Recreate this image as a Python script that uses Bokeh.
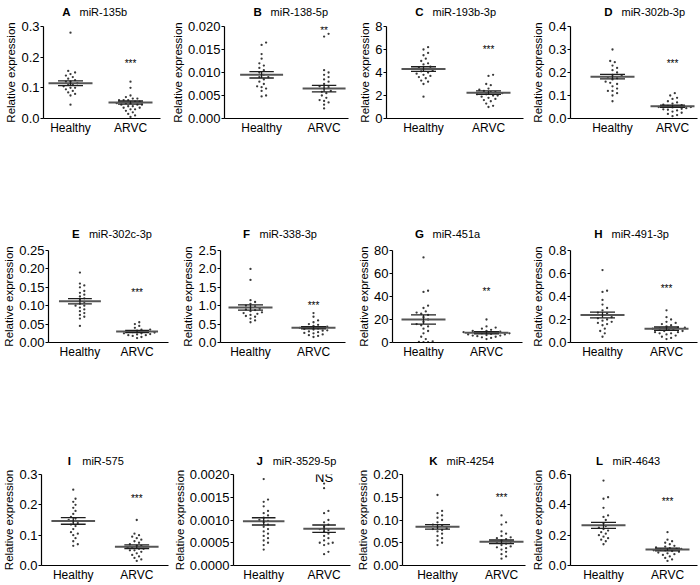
import numpy as np
from bokeh.plotting import figure
from bokeh.models import Range1d, FixedTicker, Label, ColumnDataSource
from bokeh.layouts import row, column
from bokeh.embed import file_html
from bokeh.resources import INLINE

# ---------------- data ----------------
groups = ["Healthy", "ARVC"]
panel_letters = ["A", "B", "C", "D", "E", "F", "G", "H", "I", "J", "K", "L"]
panel_names = ["miR-135b", "miR-138-5p", "miR-193b-3p", "miR-302b-3p",
               "miR-302c-3p", "miR-338-3p", "miR-451a", "miR-491-3p",
               "miR-575", "miR-3529-5p", "miR-4254", "miR-4643"]
signif = ["***", "**", "***", "***", "***", "***", "**", "***", "***", "NS", "***", "***"]
signif_y = [0.18, 0.0192, 6.0, 0.24, 0.135, 1.0, 44, 0.47, 0.22, 0.00194, 0.15, 0.42]
y_max = [0.3, 0.02, 8, 0.4, 0.25, 2.5, 80, 0.8, 0.3, 0.002, 0.2, 0.6]
y_ticks = [
    [0, 0.1, 0.2, 0.3],
    [0, 0.005, 0.010, 0.015, 0.020],
    [0, 2, 4, 6, 8],
    [0, 0.1, 0.2, 0.3, 0.4],
    [0, 0.05, 0.10, 0.15, 0.20, 0.25],
    [0, 0.5, 1.0, 1.5, 2.0, 2.5],
    [0, 20, 40, 60, 80],
    [0, 0.2, 0.4, 0.6, 0.8],
    [0, 0.1, 0.2, 0.3],
    [0, 0.0005, 0.0010, 0.0015, 0.0020],
    [0, 0.05, 0.10, 0.15, 0.20],
    [0, 0.2, 0.4, 0.6],
]
y_tick_labels = [
    ["0.0", "0.1", "0.2", "0.3"],
    ["0.000", "0.005", "0.010", "0.015", "0.020"],
    ["0", "2", "4", "6", "8"],
    ["0.0", "0.1", "0.2", "0.3", "0.4"],
    ["0.00", "0.05", "0.10", "0.15", "0.20", "0.25"],
    ["0.0", "0.5", "1.0", "1.5", "2.0", "2.5"],
    ["0", "20", "40", "60", "80"],
    ["0.0", "0.2", "0.4", "0.6", "0.8"],
    ["0.0", "0.1", "0.2", "0.3"],
    ["0.0000", "0.0005", "0.0010", "0.0015", "0.0020"],
    ["0.00", "0.05", "0.10", "0.15", "0.20"],
    ["0.0", "0.2", "0.4", "0.6"],
]
healthy_mean = [0.115, 0.0095, 4.3, 0.182, 0.112, 0.95, 20, 0.24, 0.147, 0.00097, 0.085, 0.265]
healthy_sem = [0.008, 0.0007, 0.2, 0.010, 0.007, 0.07, 4, 0.025, 0.011, 0.00008, 0.005, 0.02]
arvc_mean = [0.052, 0.0065, 2.25, 0.053, 0.030, 0.40, 8.5, 0.12, 0.062, 0.00081, 0.052, 0.105]
arvc_sem = [0.005, 0.0007, 0.15, 0.005, 0.003, 0.03, 1.0, 0.015, 0.006, 0.00008, 0.004, 0.009]

healthy_A = [0.28, 0.155, 0.15, 0.145, 0.14, 0.135, 0.13, 0.125, 0.12, 0.12, 0.115, 0.11,
             0.11, 0.105, 0.1, 0.1, 0.095, 0.09, 0.085, 0.08, 0.075, 0.045]
arvc_A = [0.12, 0.1, 0.075, 0.07, 0.065, 0.065, 0.06, 0.06, 0.06, 0.055, 0.055, 0.05, 0.05,
          0.05, 0.045, 0.045, 0.045, 0.04, 0.04, 0.035, 0.035, 0.03, 0.03, 0.025, 0.02,
          0.015, 0.01, 0.005]
healthy_B = [0.0165, 0.016, 0.014, 0.013, 0.012, 0.0115, 0.011, 0.0105, 0.01, 0.0095, 0.009,
             0.009, 0.0085, 0.008, 0.0075, 0.007, 0.0068, 0.0065, 0.006, 0.005, 0.0048]
arvc_B = [0.0184, 0.0178, 0.0105, 0.01, 0.0095, 0.009, 0.0085, 0.008, 0.0075, 0.007, 0.0068,
          0.0065, 0.006, 0.0058, 0.0055, 0.005, 0.0045, 0.004, 0.0038, 0.0035, 0.003, 0.0022]
healthy_C = [6.2, 6.0, 5.7, 5.5, 5.2, 5.0, 4.8, 4.7, 4.5, 4.4, 4.3, 4.2, 4.1, 4.0, 3.9, 3.8,
             3.7, 3.6, 3.5, 3.3, 3.2, 3.0, 1.9]
arvc_C = [3.8, 3.7, 3.0, 2.9, 2.6, 2.5, 2.4, 2.3, 2.3, 2.2, 2.1, 2.1, 2.0, 2.0, 1.9, 1.8,
          1.7, 1.6, 1.5, 1.3, 1.1, 1.0]
healthy_D = [0.3, 0.25, 0.245, 0.23, 0.22, 0.21, 0.2, 0.19, 0.185, 0.18, 0.175, 0.17, 0.16,
             0.155, 0.15, 0.14, 0.13, 0.12, 0.12, 0.11, 0.1, 0.075]
arvc_D = [0.11, 0.1, 0.09, 0.085, 0.075, 0.07, 0.065, 0.06, 0.058, 0.055, 0.052, 0.05, 0.05,
          0.048, 0.045, 0.042, 0.04, 0.038, 0.035, 0.03, 0.025, 0.02, 0.015, 0.01]
healthy_E = [0.19, 0.16, 0.155, 0.15, 0.14, 0.135, 0.13, 0.125, 0.12, 0.115, 0.11, 0.105,
             0.1, 0.1, 0.095, 0.09, 0.085, 0.08, 0.075, 0.07, 0.065, 0.045]
arvc_E = [0.055, 0.05, 0.045, 0.04, 0.035, 0.035, 0.032, 0.03, 0.03, 0.028, 0.027, 0.025,
          0.025, 0.023, 0.022, 0.02, 0.02, 0.018, 0.015, 0.012]
healthy_F = [2.0, 1.7, 1.15, 1.1, 1.05, 1.0, 0.98, 0.95, 0.92, 0.9, 0.88, 0.85, 0.82, 0.8,
             0.78, 0.75, 0.72, 0.7, 0.65, 0.6, 0.55]
arvc_F = [0.8, 0.7, 0.6, 0.55, 0.5, 0.48, 0.45, 0.43, 0.42, 0.4, 0.4, 0.38, 0.37, 0.35,
          0.33, 0.32, 0.3, 0.28, 0.26, 0.25, 0.22, 0.2, 0.18, 0.15]
healthy_G = [74, 45, 44, 32, 30, 27, 26, 25, 24, 22, 20, 18, 16, 15, 14, 12, 10, 8, 5, 3,
             1, 0.5, 0.3, 0.2]
arvc_G = [20, 14, 13, 12, 11, 10, 10, 9.5, 9, 9, 8.5, 8, 8, 7.5, 7, 7, 6.5, 6, 6, 5.5, 5,
          4.5, 4, 3]
healthy_H = [0.63, 0.45, 0.44, 0.37, 0.33, 0.3, 0.28, 0.26, 0.25, 0.24, 0.22, 0.21, 0.2,
             0.19, 0.18, 0.17, 0.16, 0.15, 0.12, 0.1, 0.08, 0.05]
arvc_H = [0.28, 0.22, 0.2, 0.18, 0.17, 0.16, 0.15, 0.14, 0.13, 0.13, 0.12, 0.12, 0.11,
          0.11, 0.1, 0.1, 0.09, 0.09, 0.08, 0.08, 0.07, 0.06, 0.05, 0.04, 0.03]
healthy_I = [0.25, 0.22, 0.21, 0.2, 0.19, 0.18, 0.17, 0.16, 0.155, 0.15, 0.145, 0.14, 0.135,
             0.13, 0.12, 0.11, 0.105, 0.1, 0.09, 0.08, 0.07, 0.065]
arvc_I = [0.15, 0.105, 0.1, 0.095, 0.09, 0.085, 0.08, 0.075, 0.07, 0.065, 0.065, 0.06, 0.06,
          0.055, 0.055, 0.05, 0.05, 0.045, 0.04, 0.035, 0.03, 0.025, 0.02, 0.015]
healthy_J = [0.0019, 0.00145, 0.0014, 0.0013, 0.0012, 0.00115, 0.0011, 0.00105, 0.001,
             0.00098, 0.00095, 0.0009, 0.00085, 0.0008, 0.00075, 0.0007, 0.00065, 0.0006,
             0.00055, 0.0005, 0.00045, 0.00035]
arvc_J = [0.0018, 0.0017, 0.0012, 0.00115, 0.001, 0.00095, 0.0009, 0.00085, 0.0008, 0.00078,
          0.00075, 0.0007, 0.00065, 0.0006, 0.00055, 0.0005, 0.0005, 0.00048, 0.00045,
          0.0003, 0.00025]
healthy_K = [0.155, 0.12, 0.115, 0.11, 0.105, 0.1, 0.095, 0.09, 0.088, 0.085, 0.082, 0.08,
             0.078, 0.075, 0.07, 0.065, 0.06, 0.055, 0.05, 0.045]
arvc_K = [0.11, 0.095, 0.09, 0.075, 0.07, 0.065, 0.062, 0.06, 0.058, 0.055, 0.052, 0.05,
          0.048, 0.045, 0.042, 0.04, 0.038, 0.035, 0.03, 0.025, 0.02, 0.015]
healthy_L = [0.56, 0.45, 0.44, 0.38, 0.33, 0.32, 0.3, 0.28, 0.26, 0.25, 0.24, 0.23, 0.22,
             0.21, 0.2, 0.19, 0.18, 0.17, 0.16, 0.14]
arvc_L = [0.22, 0.17, 0.16, 0.15, 0.14, 0.13, 0.125, 0.12, 0.115, 0.11, 0.11, 0.105, 0.1,
          0.1, 0.095, 0.09, 0.085, 0.08, 0.075, 0.07, 0.06, 0.05, 0.04, 0.03]

healthy_points = [healthy_A, healthy_B, healthy_C, healthy_D, healthy_E, healthy_F,
                  healthy_G, healthy_H, healthy_I, healthy_J, healthy_K, healthy_L]
arvc_points = [arvc_A, arvc_B, arvc_C, arvc_D, arvc_E, arvc_F,
               arvc_G, arvc_H, arvc_I, arvc_J, arvc_K, arvc_L]

# ---------------- layout geometry (page pixels, origin at page corner) ----------------
# (fig_left, fig_right, frame_left, healthy_x, arvc_x, frame_right)
panel_geom = [
    (0, 168, 43, 70, 130, 160), (168, 352, 221, 259, 323, 348),
    (352, 527, 386, 423, 488, 523), (527, 700, 570, 612, 672, 697),
    (0, 172, 42, 75, 135, 168), (172, 350, 220, 250, 313, 345),
    (350, 527, 392, 423, 486, 522), (527, 700, 570, 602, 666, 697),
    (0, 170, 40, 72, 136, 168), (170, 352, 226, 258, 322, 350),
    (352, 527, 402, 437, 501, 525), (527, 700, 570, 603, 667, 697),
]
# (title_area_height, title_center_from_bottom, border_top, frame_height, border_bottom)
row_geom = [(19, 8, 7, 93, 18), (106, 10, 7, 93, 18), (106, 7, 7, 93, 17)]

FONT = "Liberation Sans"


def swarm(vals, ymax, frame_h, d=3.7):
    ypx = np.asarray(vals, dtype=float) / ymax * frame_h
    order = np.argsort(ypx)
    xs = np.zeros(len(ypx))
    placed = []
    step = d * 0.62
    for i in order:
        y = ypx[i]
        cands = [0.0]
        for k in range(1, 30):
            cands += [k * step, -k * step]
        for c in cands:
            ok = True
            for (px, py) in placed:
                if (px - c) ** 2 + (py - y) ** 2 < d * d:
                    ok = False
                    break
            if ok:
                xs[i] = c
                placed.append((c, y))
                break
    return xs


def make_panel(i):
    fl, fr, axl, hx, axc, fright = panel_geom[i]
    th, tc, bt, fh, bb = row_geom[i // 4]
    ppu = float(axc - hx)
    xr = Range1d(1 - (hx - axl) / ppu, 2 + (fright - axc) / ppu)
    ymax = y_max[i]

    # title strip
    t = figure(width=fr - fl, height=th, x_range=xr, y_range=Range1d(0, th),
               min_border_left=axl - fl, min_border_right=fr - fright,
               min_border_top=0, min_border_bottom=0,
               x_axis_type=None, y_axis_type=None,
               output_backend="svg", toolbar_location=None, tools="", title=None)
    t.outline_line_color = None
    t.grid.visible = False
    t.add_layout(Label(x=1, y=tc, x_offset=-4, text=panel_letters[i],
                       text_align="center", text_baseline="middle", text_font=FONT,
                       text_font_style="bold", text_font_size="11.5px", text_color="black"))
    t.add_layout(Label(x=1, y=tc, x_offset=9, text=panel_names[i],
                       text_align="left", text_baseline="middle", text_font=FONT,
                       text_font_size="11px", text_color="black"))

    p = figure(width=fr - fl, height=bt + fh + bb,
               x_range=xr, y_range=Range1d(0, ymax),
               min_border_left=axl - fl, min_border_right=fr - fright,
               min_border_top=bt, min_border_bottom=bb,
               output_backend="svg", toolbar_location=None, tools="",
               title=None)
    p.outline_line_color = None
    p.xgrid.visible = False
    p.ygrid.visible = False

    # axes
    p.xaxis.ticker = FixedTicker(ticks=[1, 2])
    p.xaxis.major_label_overrides = {1: groups[0], 2: groups[1]}
    p.xaxis.major_tick_out = 0
    p.xaxis.major_tick_in = 0
    p.xaxis.minor_tick_out = 0
    p.xaxis.major_label_standoff = 2
    p.xaxis.major_label_text_font = FONT
    p.xaxis.major_label_text_font_size = "12px"
    p.xaxis.major_label_text_color = "black"
    p.xaxis.axis_line_color = "black"
    p.xaxis.axis_line_width = 1.2

    p.yaxis.ticker = FixedTicker(ticks=y_ticks[i])
    p.yaxis.major_label_overrides = {tk: s for tk, s in zip(y_ticks[i], y_tick_labels[i])}
    p.yaxis.minor_tick_out = 0
    p.yaxis.minor_tick_in = 0
    p.yaxis.major_tick_in = 0
    p.yaxis.major_tick_out = 3
    p.yaxis.major_tick_line_width = 1.2
    p.yaxis.major_label_standoff = 1
    p.yaxis.major_label_text_font = FONT
    p.yaxis.major_label_text_font_size = "13px"
    p.yaxis.major_label_text_color = "black"
    p.yaxis.axis_line_color = "black"
    p.yaxis.axis_line_width = 1.2
    p.yaxis.axis_label = "Relative expression"
    p.yaxis.axis_label_text_font = FONT
    p.yaxis.axis_label_text_font_size = "11.5px"
    p.yaxis.axis_label_text_font_style = "normal"
    p.yaxis.axis_label_text_color = "black"
    p.yaxis.axis_label_standoff = 1

    # points
    for vals, xc in [(healthy_points[i], 1), (arvc_points[i], 2)]:
        offs = swarm(vals, ymax, fh) / ppu
        src = ColumnDataSource(dict(x=xc + offs, y=vals))
        p.scatter("x", "y", source=src, size=2.3, fill_color="#3a3a3a",
                  line_color=None)

    # mean and SEM
    means = [healthy_mean[i], arvc_mean[i]]
    sems = [healthy_sem[i], arvc_sem[i]]
    mh = 22 / ppu
    ch = 12.5 / ppu
    xs = [1, 2]
    p.segment(x0=[x - mh for x in xs], x1=[x + mh for x in xs], y0=means, y1=means,
              line_color="#555555", line_width=2)
    p.segment(x0=xs, x1=xs, y0=[m - s for m, s in zip(means, sems)],
              y1=[m + s for m, s in zip(means, sems)], line_color="#1e1e1e", line_width=1.3)
    for sign in (-1, 1):
        yy = [m + sign * s for m, s in zip(means, sems)]
        p.segment(x0=[x - ch for x in xs], x1=[x + ch for x in xs], y0=yy, y1=yy,
                  line_color="#1e1e1e", line_width=1.3)

    # significance
    p.add_layout(Label(x=2, y=signif_y[i], text=signif[i], text_align="center",
                       text_baseline="middle", text_font=FONT,
                       text_font_size="13px" if signif[i] == "NS" else "10px",
                       text_color="black"))
    return column(t, p)


panels = [make_panel(i) for i in range(12)]
layout = column(row(*panels[0:4]), row(*panels[4:8]), row(*panels[8:12]))

open("out.html", "w").write(file_html(layout, INLINE))
